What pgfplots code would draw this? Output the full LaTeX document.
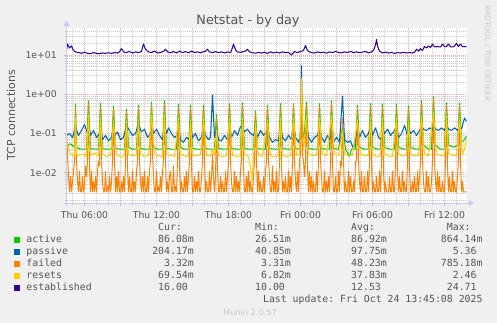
\documentclass[border=0pt]{standalone}
\usepackage{fontspec}
\setmainfont{DejaVu Sans}
\newfontfamily\monof{DejaVu Sans Mono}
\usepackage{pgfplots}
\pgfplotsset{compat=1.18}
\usepackage{pgfplotstable}
\frenchspacing
\definecolor{bgc}{HTML}{F0F0F0}
\definecolor{txt}{HTML}{555555}
\definecolor{cActive}{HTML}{00CC00}
\definecolor{cPassive}{HTML}{0066B3}
\definecolor{cFailed}{HTML}{FF8000}
\definecolor{cResets}{HTML}{FFCC00}
\definecolor{cEst}{HTML}{330099}
\definecolor{mgrid}{RGB}{236,168,168}
\definecolor{ngrid}{RGB}{200,200,200}
\definecolor{axc}{RGB}{195,205,245}
\definecolor{faint}{RGB}{200,200,200}

% x = 5-minute step index (0 = Thu 04:30), y = connections
\pgfplotstableread[row sep=\\]{
x y\\
0 0.05\\4 0.055\\8 0.045\\9 0.56\\10 0.045\\14 0.04\\20 0.04\\22 0.68\\24 0.042\\28 0.04\\32 0.04\\34 0.58\\36 0.041\\40 0.04\\45 0.04\\47 0.5\\49 0.042\\54 0.04\\58 0.04\\60 0.42\\62 0.045\\66 0.04\\70 0.04\\72 0.53\\74 0.042\\78 0.04\\83 0.04\\85 0.63\\87 0.045\\91 0.04\\96 0.04\\98 0.68\\100 0.042\\105 0.04\\110 0.04\\112 0.56\\114 0.045\\118 0.04\\122 0.04\\124 0.53\\126 0.042\\131 0.04\\135 0.04\\137 0.53\\139 0.042\\144 0.04\\148 0.04\\150 0.3\\152 0.042\\157 0.04\\161 0.04\\163 0.58\\165 0.042\\170 0.04\\174 0.04\\176 0.6\\178 0.042\\183 0.04\\187 0.04\\189 0.37\\191 0.042\\196 0.04\\199 0.04\\201 0.53\\203 0.042\\208 0.04\\212 0.04\\214 0.58\\216 0.042\\221 0.04\\225 0.04\\227 0.58\\229 0.042\\233 0.04\\235 0.5\\237 0.045\\240 0.63\\242 0.042\\247 0.04\\251 0.04\\253 0.58\\255 0.042\\260 0.04\\263 0.04\\265 0.68\\267 0.042\\272 0.04\\276 0.15\\279 0.04\\283 0.0265\\285 0.04\\289 0.04\\291 0.53\\293 0.045\\298 0.04\\302 0.04\\304 0.58\\306 0.045\\311 0.04\\314 0.04\\316 0.56\\318 0.045\\323 0.04\\328 0.04\\330 0.56\\332 0.045\\337 0.04\\340 0.04\\342 0.5\\344 0.045\\349 0.04\\353 0.04\\355 0.69\\357 0.05\\362 0.04\\365 0.04\\367 0.864\\369 0.05\\374 0.04\\378 0.04\\380 0.6\\382 0.05\\387 0.045\\391 0.05\\393 0.6\\395 0.06\\398 0.07\\400 0.086\\
}\activetab

\pgfplotstableread[row sep=\\]{
x y\\
0 0.09\\3 0.1\\6 0.08\\9 0.15\\12 0.09\\15 0.12\\18 0.17\\21 0.1\\22 0.18\\24 0.09\\27 0.12\\30 0.08\\33 0.1\\34 0.14\\36 0.07\\39 0.09\\42 0.065\\45 0.08\\47 0.15\\48 0.09\\51 0.11\\54 0.07\\57 0.08\\60 0.16\\63 0.12\\66 0.09\\69 0.1\\72 0.18\\75 0.11\\78 0.13\\81 0.08\\84 0.1\\85 0.2\\87 0.1\\90 0.13\\93 0.09\\96 0.07\\98 0.17\\100 0.1\\102 0.14\\105 0.1\\108 0.08\\111 0.09\\112 0.15\\114 0.07\\117 0.06\\120 0.08\\123 0.07\\124 0.15\\126 0.08\\129 0.1\\132 0.065\\135 0.08\\137 0.16\\139 0.09\\142 0.07\\144 0.08\\146 0.96\\148 0.08\\150 0.12\\152 0.07\\155 0.065\\158 0.09\\161 0.07\\163 0.14\\165 0.08\\168 0.12\\171 0.09\\174 0.15\\176 0.15\\178 0.11\\181 0.13\\184 0.1\\187 0.09\\189 0.13\\191 0.08\\194 0.12\\197 0.09\\200 0.11\\201 0.14\\203 0.08\\206 0.06\\209 0.07\\212 0.065\\214 0.15\\216 0.08\\219 0.065\\222 0.09\\225 0.07\\227 0.15\\229 0.08\\232 0.06\\234 0.1\\235 5.36\\236 0.12\\238 0.07\\240 0.2\\242 0.08\\245 0.06\\248 0.08\\251 0.09\\253 0.15\\255 0.08\\258 0.06\\261 0.09\\264 0.07\\265 0.15\\267 0.06\\270 0.08\\273 0.06\\276 0.9\\278 0.07\\281 0.06\\284 0.065\\287 0.0409\\290 0.09\\291 0.14\\293 0.08\\296 0.12\\299 0.08\\302 0.1\\304 0.16\\306 0.09\\309 0.14\\312 0.08\\315 0.07\\316 0.14\\318 0.1\\321 0.13\\324 0.09\\327 0.11\\330 0.15\\332 0.08\\335 0.1\\338 0.16\\341 0.09\\342 0.14\\344 0.1\\347 0.12\\350 0.09\\353 0.12\\355 0.16\\357 0.13\\360 0.12\\363 0.14\\366 0.12\\367 0.16\\369 0.13\\372 0.12\\375 0.14\\378 0.12\\380 0.16\\382 0.13\\385 0.12\\388 0.14\\391 0.12\\393 0.16\\395 0.13\\398 0.25\\400 0.204\\
}\passivetab

% failed: one value per 5-minute step, index 0..400
\pgfplotstableread[row sep=\\]{
y\\
0.09\\0.03\\0.008\\0.0033\\0.008\\0.0033\\0.006\\0.011\\0.02\\0.48\\
0.02\\0.006\\0.0033\\0.011\\0.0033\\0.0033\\0.008\\0.0033\\0.0045\\0.015\\
0.008\\0.02\\0.58\\0.015\\0.0033\\0.011\\0.0033\\0.006\\0.0033\\0.008\\
0.0033\\0.011\\0.02\\0.015\\0.5\\0.02\\0.006\\0.0033\\0.0033\\0.011\\
0.0033\\0.0045\\0.0033\\0.008\\0.0033\\0.006\\0.02\\0.43\\0.02\\0.0033\\
0.008\\0.0033\\0.011\\0.0033\\0.0033\\0.006\\0.0033\\0.008\\0.0033\\0.02\\
0.36\\0.015\\0.0033\\0.008\\0.0033\\0.0033\\0.011\\0.0033\\0.006\\0.0033\\
0.011\\0.02\\0.45\\0.02\\0.006\\0.0033\\0.008\\0.0033\\0.011\\0.0033\\
0.0033\\0.008\\0.0033\\0.011\\0.02\\0.54\\0.03\\0.008\\0.0033\\0.0033\\
0.011\\0.0033\\0.0045\\0.0033\\0.008\\0.0033\\0.011\\0.02\\0.58\\0.02\\
0.0033\\0.006\\0.0033\\0.008\\0.011\\0.0033\\0.0033\\0.015\\0.0033\\0.0045\\
0.0033\\0.02\\0.48\\0.015\\0.0033\\0.006\\0.0033\\0.0033\\0.008\\0.0033\\
0.011\\0.0033\\0.008\\0.02\\0.45\\0.015\\0.0033\\0.0033\\0.008\\0.0033\\
0.006\\0.0033\\0.011\\0.0033\\0.0033\\0.008\\0.02\\0.45\\0.02\\0.0033\\
0.006\\0.0033\\0.0033\\0.011\\0.0033\\0.008\\0.03\\0.008\\0.0033\\0.008\\
0.25\\0.015\\0.0033\\0.0033\\0.008\\0.0033\\0.006\\0.0033\\0.0033\\0.011\\
0.0033\\0.008\\0.02\\0.5\\0.02\\0.006\\0.0033\\0.0033\\0.011\\0.0033\\
0.008\\0.0033\\0.006\\0.0033\\0.011\\0.02\\0.52\\0.015\\0.0033\\0.0033\\
0.008\\0.0033\\0.011\\0.0033\\0.006\\0.0033\\0.0033\\0.008\\0.02\\0.32\\
0.02\\0.0033\\0.011\\0.0033\\0.006\\0.0033\\0.0033\\0.008\\0.0033\\0.011\\
0.02\\0.45\\0.02\\0.008\\0.0033\\0.0033\\0.015\\0.0033\\0.006\\0.0033\\
0.011\\0.0033\\0.0033\\0.02\\0.5\\0.015\\0.0033\\0.006\\0.0033\\0.008\\
0.0033\\0.0033\\0.011\\0.0033\\0.008\\0.0033\\0.02\\0.5\\0.02\\0.006\\
0.0033\\0.011\\0.0033\\0.02\\0.03\\0.6\\0.03\\0.02\\0.008\\0.02\\
0.54\\0.015\\0.0033\\0.011\\0.0033\\0.008\\0.0033\\0.006\\0.0033\\0.0033\\
0.011\\0.0033\\0.02\\0.5\\0.02\\0.008\\0.0033\\0.0033\\0.011\\0.0033\\
0.006\\0.0033\\0.008\\0.0033\\0.015\\0.58\\0.015\\0.0033\\0.0033\\0.008\\
0.0033\\0.0033\\0.011\\0.0033\\0.02\\0.015\\0.25\\0.02\\0.0033\\0.006\\
0.0033\\0.0033\\0.011\\0.0033\\0.008\\0.0033\\0.0033\\0.006\\0.0033\\0.02\\
0.02\\0.45\\0.02\\0.006\\0.0033\\0.011\\0.0033\\0.0033\\0.008\\0.0033\\
0.0033\\0.011\\0.0033\\0.02\\0.5\\0.015\\0.0033\\0.006\\0.0033\\0.0033\\
0.008\\0.0033\\0.0033\\0.011\\0.0033\\0.02\\0.48\\0.011\\0.0033\\0.006\\
0.0033\\0.0033\\0.0033\\0.008\\0.0033\\0.0033\\0.011\\0.0033\\0.0033\\0.02\\
0.48\\0.015\\0.0033\\0.008\\0.0033\\0.0033\\0.011\\0.0033\\0.006\\0.0033\\
0.0033\\0.02\\0.43\\0.015\\0.0033\\0.0033\\0.006\\0.0033\\0.008\\0.0033\\
0.0033\\0.011\\0.0033\\0.008\\0.02\\0.59\\0.02\\0.006\\0.0033\\0.0033\\
0.011\\0.0033\\0.008\\0.0033\\0.0033\\0.006\\0.02\\0.785\\0.02\\0.006\\
0.0033\\0.011\\0.0033\\0.008\\0.0033\\0.0033\\0.006\\0.0033\\0.0033\\0.02\\
0.52\\0.015\\0.0033\\0.008\\0.0033\\0.0033\\0.011\\0.0033\\0.006\\0.0033\\
0.0033\\0.008\\0.02\\0.52\\0.02\\0.0033\\0.006\\0.0033\\0.0033\\0.0033\\
0.0033\\
}\failedtab

\pgfplotstableread[row sep=\\]{
x y\\
0 0.065\\2 0.045\\4 0.03\\8 0.026\\9 0.25\\10 0.03\\12 0.028\\16 0.03\\20 0.026\\22 0.3\\24 0.028\\28 0.032\\32 0.027\\34 0.25\\36 0.03\\40 0.026\\44 0.028\\47 0.2\\50 0.03\\54 0.025\\58 0.028\\60 0.2\\62 0.03\\66 0.027\\70 0.029\\72 0.22\\74 0.03\\78 0.026\\82 0.028\\85 0.3\\88 0.03\\92 0.027\\96 0.026\\98 0.3\\100 0.03\\104 0.028\\108 0.026\\112 0.25\\114 0.03\\118 0.027\\122 0.026\\124 0.22\\126 0.028\\130 0.027\\134 0.029\\137 0.25\\140 0.028\\144 0.027\\146 0.04\\148 0.028\\150 0.12\\152 0.028\\156 0.026\\160 0.027\\163 0.25\\166 0.028\\170 0.026\\174 0.027\\176 0.25\\178 0.03\\182 0.026\\186 0.0068\\187 0.027\\189 0.18\\192 0.028\\196 0.026\\201 0.22\\204 0.027\\208 0.026\\212 0.028\\214 0.25\\216 0.028\\220 0.026\\224 0.027\\227 0.25\\230 0.028\\233 0.03\\235 2.46\\237 0.04\\240 0.3\\242 0.03\\246 0.027\\250 0.028\\253 0.25\\256 0.03\\260 0.027\\265 0.28\\268 0.03\\272 0.028\\276 0.12\\278 0.03\\282 0.027\\286 0.028\\291 0.22\\294 0.03\\298 0.027\\302 0.028\\304 0.25\\306 0.03\\310 0.026\\314 0.027\\316 0.25\\318 0.03\\322 0.027\\326 0.026\\330 0.25\\332 0.03\\336 0.027\\340 0.028\\342 0.2\\344 0.03\\348 0.027\\352 0.028\\355 0.28\\358 0.03\\362 0.027\\367 0.35\\370 0.03\\374 0.028\\378 0.027\\380 0.28\\382 0.03\\386 0.028\\390 0.027\\393 0.25\\396 0.03\\398 0.04\\400 0.0695\\
}\resetstab

\pgfplotstableread[row sep=\\]{
x y\\
0 13\\1 19\\3 15\\5 17\\7 13\\9 12\\12 11.5\\15 11\\18 11.8\\21 11\\24 10.8\\27 11.5\\30 11\\33 10.7\\36 11.3\\39 11\\42 11.4\\45 11\\48 11.5\\51 11.2\\53 12\\55 14.5\\57 12\\60 11.5\\63 12.3\\66 11.2\\69 12\\72 11.4\\75 12.5\\77 19\\79 14\\82 12\\85 11.5\\88 12.6\\91 11.2\\94 11.6\\97 12.4\\99 14\\101 12\\104 11.3\\107 12.3\\110 11.2\\113 12.5\\116 11.5\\119 12.2\\122 11.4\\125 12.6\\128 11.5\\131 12\\134 11.3\\137 12.2\\139 12.5\\141 14\\143 12\\146 11.5\\149 12.2\\152 11.4\\155 12\\158 11.3\\161 11.9\\164 11.5\\165 13\\167 19\\169 13.5\\171 12\\174 11.6\\177 12.3\\179 12.5\\181 14\\183 12\\186 11.4\\189 11.1\\192 11.6\\195 11.2\\198 11.8\\201 11\\204 12\\207 11.3\\210 11.8\\213 11.2\\216 12\\219 11.4\\222 11.6\\225 10\\228 12.2\\231 11.5\\234 12.3\\237 13\\239 17.5\\241 13\\243 12\\245 11.5\\248 11.2\\251 12\\254 11.4\\257 11.8\\260 11.1\\263 12\\266 11.5\\269 12.3\\272 11.6\\275 11.3\\278 12\\281 11.5\\284 12.3\\287 11.5\\290 12\\293 11.4\\296 11.8\\299 12.3\\302 11.3\\305 12\\307 13\\309 18\\310 24.7\\311 17\\313 12.5\\316 11.3\\319 11.8\\322 11.2\\325 11.6\\328 11\\331 11.5\\334 11.2\\337 11.6\\340 11.3\\343 11.5\\346 11.2\\348 11.8\\350 14\\352 12.5\\354 14.5\\356 13\\358 16.5\\360 15\\362 17\\364 15.5\\366 19\\368 16\\371 16.3\\374 16\\376 19\\378 16.2\\380 16.5\\382 19\\384 16.2\\387 16\\390 19.5\\392 16.5\\394 19\\396 16.2\\398 16.5\\400 16\\
}\esttab

\begin{document}
\begin{tikzpicture}[x=1bp,y=1bp]
\fill[bgc] (0,0) rectangle (497,323);
\fill[white] (66.5,120) rectangle (466.5,295);
\begin{axis}[
  at={(66.5bp,120bp)}, anchor=south west,
  scale only axis, width=400bp, height=175bp,
  xmin=0, xmax=400, ymode=log, ymin=0.00171, ymax=48.6,
  axis line style={draw=none},
  xtick={18,54,...,378},
  xticklabels={Thu 06:00,,Thu 12:00,,Thu 18:00,,Fri 00:00,,Fri 06:00,,Fri 12:00},
  minor xtick={6,18,...,396},
  ytick={0.01,0.1,1,10},
  yticklabels={1e-02,1e-01,1e+00,1e+01},
  minor ytick={0.002,0.003,0.004,0.005,0.006,0.007,0.008,0.009,0.02,0.03,0.04,0.05,0.06,0.07,0.08,0.09,0.2,0.3,0.4,0.5,0.6,0.7,0.8,0.9,2,3,4,5,6,7,8,9,20,30,40},
  xmajorgrids, xminorgrids, ymajorgrids, yminorgrids,
  major grid style={mgrid, line width=0.8bp, dash pattern=on 1bp off 1bp},
  minor grid style={ngrid, line width=0.8bp, dash pattern=on 1bp off 1bp},
  tick align=outside, xtick pos=bottom, ytick pos=left,
  major tick length=3bp, minor tick length=2bp,
  major tick style={mgrid, line width=0.8bp},
  minor tick style={ngrid, line width=0.8bp},
  tick label style={font=\fontsize{9.3bp}{11bp}\selectfont, text=txt},
  xticklabel style={anchor=base, inner sep=0pt, yshift=-12.7bp},
  yticklabel style={anchor=east, inner sep=0pt, xshift=-6.5bp},
  every axis plot/.append style={line width=1.05bp, line join=round},
  clip=true,
]
\addplot[cActive, no markers] table[x=x,y=y] {\activetab};
\addplot[cPassive, no markers] table[x=x,y=y] {\passivetab};
\addplot[cFailed, no markers, line width=0.95bp] table[x expr=\coordindex, y=y] {\failedtab};
\addplot[cResets, no markers] table[x=x,y=y] {\resetstab};
\addplot[cEst, no markers] table[x=x,y=y] {\esttab};
\end{axis}
% axis lines with arrows
\draw[axc, line width=1bp] (66.5,117) -- (66.5,298);
\fill[axc] (63.3,297) -- (69.7,297) -- (66.5,302.5) -- cycle;
\draw[axc, line width=1bp] (63.5,120) -- (469,120);
\fill[axc] (468.5,116.8) -- (468.5,123.2) -- (474,120) -- cycle;
% titles
\node[anchor=base, inner sep=0pt, text=txt, font=\fontsize{12.8bp}{15bp}\selectfont] at (248,298.7) {Netstat - by day};
\node[anchor=base, inner sep=0pt, rotate=90, text=txt, font=\fontsize{11bp}{13bp}\selectfont] at (15,207.7) {TCP connections};
\node[anchor=base, inner sep=0pt, rotate=-90, text=faint, font=\fontsize{7.5bp}{9bp}\selectfont] at (485,269.7) {RRDTOOL / TOBI OETIKER};
% legend
\begin{scope}[every node/.style={inner sep=0pt, text=txt, font=\monof\fontsize{9.85bp}{12bp}\selectfont}]
\node[anchor=base west] at (158,92.3) {Cur:};
\node[anchor=base west] at (255,92.3) {Min:};
\node[anchor=base west] at (351,92.3) {Avg:};
\node[anchor=base west] at (446.7,92.3) {Max:};
\fill[cActive]  (14,80.5) rectangle (20,86.5);
\fill[cPassive] (14,68.5) rectangle (20,74.5);
\fill[cFailed]  (14,56.5) rectangle (20,62.5);
\fill[cResets]  (14,44.5) rectangle (20,50.5);
\fill[cEst]     (14,32.5) rectangle (20,38.5);
\node[anchor=base west] at (26.3,80.3) {active};
\node[anchor=base west] at (26.3,68.3) {passive};
\node[anchor=base west] at (26.3,56.3) {failed};
\node[anchor=base west] at (26.3,44.3) {resets};
\node[anchor=base west] at (26.3,32.3) {established};
% Cur
\node[anchor=base east] at (194,80.3) {86.08m};
\node[anchor=base east] at (194,68.3) {204.17m};
\node[anchor=base east] at (194,56.3) {3.32m};
\node[anchor=base east] at (194,44.3) {69.54m};
\node[anchor=base east] at (194,32.3) {16.00\phantom{m}};
% Min
\node[anchor=base east] at (291,80.3) {26.51m};
\node[anchor=base east] at (291,68.3) {40.85m};
\node[anchor=base east] at (291,56.3) {3.31m};
\node[anchor=base east] at (291,44.3) {6.82m};
\node[anchor=base east] at (291,32.3) {10.00\phantom{m}};
% Avg
\node[anchor=base east] at (387,80.3) {86.92m};
\node[anchor=base east] at (387,68.3) {97.75m};
\node[anchor=base east] at (387,56.3) {48.23m};
\node[anchor=base east] at (387,44.3) {37.83m};
\node[anchor=base east] at (387,32.3) {12.53\phantom{m}};
% Max
\node[anchor=base east] at (482.7,80.3) {864.14m};
\node[anchor=base east] at (482.7,68.3) {5.36\phantom{m}};
\node[anchor=base east] at (482.7,56.3) {785.18m};
\node[anchor=base east] at (482.7,44.3) {2.46\phantom{m}};
\node[anchor=base east] at (482.7,32.3) {24.71\phantom{m}};
\node[anchor=base east] at (482.7,20.3) {Last update: Fri Oct 24 13:45:08 2025};
\end{scope}
\node[anchor=base, inner sep=0pt, text=faint, font=\fontsize{8.2bp}{10bp}\selectfont] at (250,8) {Munin 2.0.57};
\end{tikzpicture}
\end{document}
